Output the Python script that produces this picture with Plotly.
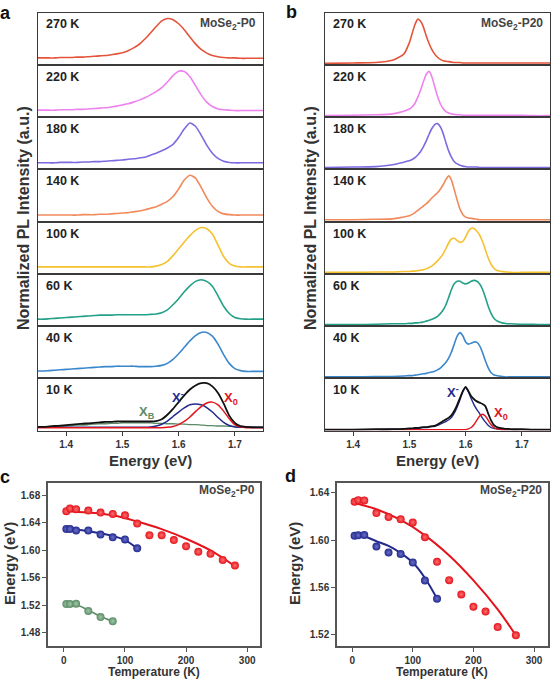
import plotly.graph_objects as go

W, H = 554, 681
FONT = "Liberation Sans, Arial, sans-serif"

# ---------------- data: PL spectra (normalized) ----------------
temps = ["270 K", "220 K", "180 K", "140 K", "100 K", "60 K", "40 K", "10 K"]
spec_colors = ["#e4543a", "#ee82ee", "#7b6be0", "#f08a5d", "#f5c12e", "#22a088", "#3b87cc", "#111111"]

EA = [1.35, 1.36, 1.37, 1.38, 1.39, 1.40, 1.41, 1.42, 1.43, 1.44,
      1.45, 1.46, 1.47, 1.48, 1.49, 1.50, 1.51, 1.52, 1.53, 1.54,
      1.55, 1.56, 1.57, 1.58, 1.59, 1.60, 1.61, 1.62, 1.63, 1.64,
      1.65, 1.66, 1.67, 1.68, 1.69, 1.70, 1.71, 1.72, 1.73, 1.74, 1.75]

a_270 = [.02, .02, .02, .02, .03, .03, .03, .04, .04, .05,
         .06, .07, .08, .10, .12, .15, .20, .27, .36, .49,
         .64, .80, .94, 1.0, .97, .87, .72, .54, .37, .23,
         .14, .08, .05, .03, .02, .02, .01, .01, .01, .01, .01]
a_220 = [.02, .02, .02, .02, .03, .03, .03, .04, .04, .05,
         .06, .07, .08, .10, .12, .15, .18, .22, .27, .33,
         .40, .48, .58, .72, .88, .99, .98, .85, .63, .40,
         .22, .11, .05, .03, .02, .01, .01, .01, .01, .01, .01]
a_180 = [.01, .01, .01, .01, .02, .02, .02, .02, .03, .03,
         .04, .04, .05, .06, .07, .08, .10, .11, .13, .15,
         .20, .25, .31, .38, .47, .64, .85, 1.0, .92, .70,
         .45, .25, .12, .05, .02, .01, .01, .01, .01, .01, .01]
a_140 = [.01, .01, .01, .01, .01, .01, .01, .01, .02, .02,
         .02, .03, .03, .04, .05, .06, .07, .09, .11, .14,
         .18, .22, .28, .35, .47, .66, .88, 1.0, .93, .70,
         .44, .23, .10, .04, .02, .01, .01, .01, .01, .01, .01]
a_100 = [.02, .02, .02, .02, .02, .02, .02, .02, .02, .02,
         .02, .02, .02, .02, .02, .02, .02, .02, .02, .02,
         .02, .04, .08, .16, .30, .47, .64, .80, .93, 1.0,
         .97, .84, .56, .28, .11, .04, .02, .02, .02, .02, .02]
a_60 = [.02, .02, .03, .04, .05, .06, .07, .08, .09, .10,
        .11, .12, .12, .12, .13, .13, .13, .13, .13, .13,
        .14, .15, .18, .25, .38, .53, .70, .85, .96, 1.0,
        .96, .84, .60, .34, .16, .06, .03, .02, .02, .02, .02]
a_40 = [.03, .03, .04, .05, .06, .07, .08, .09, .10, .11,
        .12, .13, .14, .14, .15, .15, .15, .15, .14, .14,
        .14, .15, .17, .22, .32, .46, .62, .78, .91, .99,
        .99, .90, .70, .44, .22, .09, .04, .02, .02, .02, .02]
a_10 = [.03, .03, .04, .05, .06, .07, .08, .09, .10, .11,
        .12, .13, .14, .14, .15, .15, .15, .15, .15, .15,
        .15, .16, .20, .30, .43, .58, .73, .86, .95, 1.0,
        1.0, .93, .78, .55, .28, .12, .05, .03, .02, .02, .02]
a_10_xm = [.02, .02, .02, .02, .02, .02, .02, .02, .02, .02,
           .02, .02, .02, .02, .02, .02, .02, .02, .02, .02,
           .03, .05, .09, .16, .26, .36, .45, .52, .54, .52,
           .46, .36, .24, .13, .06, .03, .02, .02, .02, .02, .02]
a_10_x0 = [.01, .01, .01, .01, .01, .01, .01, .01, .01, .01,
           .01, .01, .01, .01, .01, .01, .01, .01, .01, .01,
           .01, .01, .01, .02, .04, .08, .15, .25, .37, .48,
           .56, .58, .52, .38, .21, .08, .03, .01, .01, .01, .01]
a_10_xb = [.02, .03, .03, .04, .04, .05, .06, .07, .07, .08,
           .09, .10, .10, .11, .11, .12, .12, .12, .12, .12,
           .12, .11, .11, .10, .10, .09, .09, .08, .08, .07,
           .06, .06, .05, .05, .04, .04, .03, .03, .03, .02, .02]

EB = [1.35, 1.40, 1.44, 1.47, 1.49,
      1.500, 1.505, 1.510, 1.515, 1.520, 1.525, 1.530, 1.535, 1.540, 1.545,
      1.550, 1.555, 1.560, 1.565, 1.570, 1.575, 1.580, 1.585, 1.590, 1.595,
      1.600, 1.605, 1.610, 1.615, 1.620, 1.625, 1.630, 1.635, 1.640, 1.645,
      1.650, 1.655, 1.660, 1.665, 1.670, 1.675, 1.680,
      1.70, 1.72, 1.75]

b_270 = [.00, .01, .02, .07, .21,
         .47, .68, .88, 1.0, .95, .82, .62, .45, .31, .21,
         .14, .09, .06, .05, .04, .03, .02, .02, .02, .01,
         .01, .01, .01, .01, .01, .01, .01, .01, .01, .01,
         .01, .01, .01, .01, .01, .01, .01,
         .01, .01, .01]
b_220 = [.00, .01, .02, .04, .10,
         .15, .20, .28, .42, .58, .77, .93, 1.0, .88, .66,
         .44, .27, .16, .09, .06, .04, .03, .02, .02, .01,
         .01, .01, .01, .01, .01, .01, .01, .01, .01, .01,
         .01, .01, .01, .01, .01, .01, .01,
         .01, .00, .00]
b_180 = [.01, .02, .03, .07, .13,
         .16, .19, .23, .29, .37, .48, .61, .76, .89, .98,
         1.0, .93, .78, .57, .38, .24, .14, .09, .06, .04,
         .03, .02, .02, .02, .02, .01, .01, .01, .01, .01,
         .01, .01, .01, .01, .01, .01, .01,
         .01, .01, .01]
b_140 = [.01, .01, .02, .03, .07,
         .10, .13, .17, .22, .27, .32, .37, .43, .50, .56,
         .62, .70, .80, .92, 1.0, .90, .68, .45, .25, .13,
         .07, .05, .04, .03, .02, .01, .01, .01, .01, .01,
         .01, .01, .01, .01, .01, .01, .01,
         .01, .01, .01]
b_100 = [.00, .00, .01, .01, .02,
         .02, .03, .03, .04, .05, .06, .08, .11, .15, .20,
         .26, .33, .42, .54, .67, .76, .77, .72, .68, .70,
         .80, .93, 1.0, .99, .93, .84, .70, .52, .33, .19,
         .10, .05, .03, .02, .01, .01, .00,
         .00, .00, .00]
b_60 = [.00, .00, .01, .02, .02,
        .03, .03, .04, .04, .05, .06, .08, .10, .12, .15,
        .19, .25, .33, .45, .62, .80, .93, .98, .98, .94,
        .92, .94, .98, 1.0, .98, .92, .80, .62, .42, .26,
        .15, .09, .06, .04, .03, .02, .02,
        .01, .01, .00]
b_40 = [.00, .00, .01, .01, .02,
        .03, .03, .04, .05, .06, .07, .08, .10, .11, .13,
        .16, .20, .26, .33, .43, .57, .75, .92, 1.0, .93,
        .79, .74, .76, .79, .78, .70, .55, .37, .21, .10,
        .05, .03, .02, .01, .00, .00, .00,
        .00, .00, .00]
b_10 = [.00, .00, .01, .01, .02,
        .03, .03, .04, .04, .05, .06, .06, .07, .08, .09,
        .12, .16, .20, .24, .28, .34, .44, .58, .74, .90,
        1.0, .90, .78, .71, .66, .63, .60, .55, .38, .22,
        .11, .06, .04, .03, .02, .02, .01,
        .01, .00, .00]
b_10_xm = [.00, .00, .00, .01, .01,
           .02, .02, .03, .03, .04, .05, .05, .06, .07, .08,
           .10, .13, .16, .19, .23, .29, .39, .53, .70, .88,
           .98, .88, .72, .58, .47, .37, .27, .18, .10, .05,
           .03, .02, .01, .00, .00, .00, .00,
           .00, .00, .00]
b_10_x0 = [.00, .00, .00, .00, .00,
           .00, .00, .00, .00, .00, .00, .00, .00, .00, .00,
           .00, .00, .00, .00, .00, .00, .00, .00, .00, .00,
           .00, .02, .05, .12, .22, .32, .36, .32, .22, .12,
           .05, .02, .01, .00, .00, .00, .00,
           .00, .00, .00]

spectra_a = [a_270, a_220, a_180, a_140, a_100, a_60, a_40, a_10]
spectra_b = [b_270, b_220, b_180, b_140, b_100, b_60, b_40, b_10]

# ---------------- data: peak energies vs temperature ----------------
c_x0_T = [4, 10, 20, 40, 60, 80, 100, 120, 140, 160, 180, 200, 220, 240, 260, 280]
c_x0_E = [1.657, 1.661, 1.660, 1.658, 1.655, 1.653, 1.651, 1.639, 1.622, 1.622,
          1.615, 1.606, 1.598, 1.595, 1.586, 1.578]
c_x0_fitT = [0, 40, 80, 120, 160, 200, 240, 280]
c_x0_fitE = [1.657, 1.655, 1.651, 1.642, 1.631, 1.617, 1.600, 1.577]
c_xm_T = [4, 10, 20, 40, 60, 80, 100, 120]
c_xm_E = [1.631, 1.631, 1.629, 1.629, 1.623, 1.619, 1.616, 1.603]
c_xm_fitT = [0, 20, 40, 60, 80, 100, 120]
c_xm_fitE = [1.631, 1.630, 1.628, 1.625, 1.621, 1.615, 1.603]
c_xb_T = [4, 10, 20, 40, 60, 80]
c_xb_E = [1.522, 1.522, 1.5225, 1.512, 1.503, 1.497]
c_xb_fitT = [0, 20, 40, 60, 80]
c_xb_fitE = [1.522, 1.521, 1.513, 1.504, 1.497]

d_x0_T = [4, 10, 20, 40, 60, 80, 100, 120, 140, 160, 180, 200, 220, 240, 270]
d_x0_E = [1.6324, 1.6337, 1.6335, 1.6228, 1.6195, 1.6176, 1.6149, 1.6024, 1.5816,
          1.5661, 1.5541, 1.5437, 1.5396, 1.5265, 1.5195]
d_x0_fitT = [0, 40, 80, 120, 160, 200, 240, 270]
d_x0_fitE = [1.632, 1.626, 1.617, 1.604, 1.587, 1.566, 1.5415, 1.5195]
d_xm_T = [4, 10, 20, 40, 60, 80, 100, 120, 140]
d_xm_E = [1.6037, 1.6040, 1.6043, 1.5945, 1.5895, 1.5882, 1.5811, 1.5658, 1.5505]
d_xm_fitT = [0, 20, 40, 60, 80, 100, 120, 140]
d_xm_fitE = [1.604, 1.603, 1.599, 1.595, 1.589, 1.581, 1.568, 1.5505]

RED, BLUE, GREEN = "#e3141c", "#232a8c", "#5b8c66"
RED_C, BLUE_C, GREEN_C = "#ff7070", "#6a70cc", "#a0c8a8"

# ---------------- figure ----------------
fig = go.Figure()
layout = {}
ann = []


def px_x(p):
    return p / W


def px_y(p):
    return 1 - p / H


def ax_name(kind, n):
    return f"{kind}axis" if n == 1 else f"{kind}axis{n}"


def ax_ref(kind, n):
    return kind if n == 1 else f"{kind}{n}"


top0, step = 12.5, 52.25
panels = [(38, 263, spectra_a, "MoSe<sub>2</sub>-P0"), (325, 550, spectra_b, "MoSe<sub>2</sub>-P20")]
LINEC = "#3a3a3a"

for p, (x0, x1, specs, tag) in enumerate(panels):
    for i in range(8):
        n = p * 8 + i + 1
        top = top0 + i * step
        bot = top + step
        if p == 0:
            yr = [-0.05, 1.11] if i == 7 else [-0.15, 1.15]
        else:
            yr = [-0.02, 1.2] if i == 7 else [-0.03, 1.15]
        xa = dict(domain=[px_x(x0), px_x(x1)], range=[1.35, 1.75], anchor=ax_ref("y", n),
                  showline=True, mirror=True, linecolor=LINEC, linewidth=1.3,
                  showgrid=False, zeroline=False, ticks="", showticklabels=False)
        if i == 7:
            xa.update(ticks="outside", ticklen=4, tickwidth=1.2, tickcolor=LINEC,
                      showticklabels=True, tickvals=[1.4, 1.5, 1.6, 1.7],
                      ticktext=["<b>1.4</b>", "<b>1.5</b>", "<b>1.6</b>", "<b>1.7</b>"],
                      tickfont=dict(family=FONT, size=10, color="#333"))
        ya = dict(domain=[px_y(bot), px_y(top)], range=yr, anchor=ax_ref("x", n),
                  showline=True, mirror=True, linecolor=LINEC, linewidth=1.3,
                  showgrid=False, zeroline=False, ticks="", showticklabels=False)
        layout[ax_name("x", n)] = xa
        layout[ax_name("y", n)] = ya

        E = EA if p == 0 else EB
        if i == 7:
            if p == 0:
                comps = [(a_10_xb, GREEN, 1.3), (a_10_xm, BLUE, 1.5), (a_10_x0, RED, 1.5)]
            else:
                comps = [(b_10_xm, BLUE, 1.4), (b_10_x0, RED, 1.4)]
            for yy, cc, ww in comps:
                fig.add_trace(go.Scatter(x=E, y=yy, mode="lines", line=dict(color=cc, width=ww, shape="spline", smoothing=0.6),
                                         xaxis=ax_ref("x", n), yaxis=ax_ref("y", n), showlegend=False, hoverinfo="skip"))
        fig.add_trace(go.Scatter(x=E, y=specs[i], mode="lines",
                                 line=dict(color=spec_colors[i], width=1.8 if i == 7 else 1.6, shape="spline", smoothing=0.6),
                                 xaxis=ax_ref("x", n), yaxis=ax_ref("y", n), showlegend=False, hoverinfo="skip"))
        ann.append(dict(text=f"<b>{temps[i]}</b>", x=px_x(x0 + 6), y=px_y(top + 12), xref="paper", yref="paper",
                        xanchor="left", yanchor="middle", showarrow=False,
                        font=dict(family=FONT, size=12.5, color="#222")))
    ann.append(dict(text=f"<b>{tag}</b>", x=px_x(x1 - 5), y=px_y(top0 + 12), xref="paper", yref="paper",
                    xanchor="right", yanchor="middle", showarrow=False,
                    font=dict(family=FONT, size=12, color="#444")))
    ann.append(dict(text="<b>Energy (eV)</b>", x=px_x((x0 + x1) / 2), y=px_y(460), xref="paper", yref="paper",
                    xanchor="center", yanchor="middle", showarrow=False,
                    font=dict(family=FONT, size=15, color="#333")))

ann.append(dict(text="<b>Normalized PL Intensity (a.u.)</b>", x=px_x(23), y=px_y(218), xref="paper", yref="paper",
                textangle=-90, xanchor="center", yanchor="middle", showarrow=False,
                font=dict(family=FONT, size=16, color="#333")))
ann.append(dict(text="<b>Normalized PL Intensity (a.u.)</b>", x=px_x(310), y=px_y(218), xref="paper", yref="paper",
                textangle=-90, xanchor="center", yanchor="middle", showarrow=False,
                font=dict(family=FONT, size=16, color="#333")))

# exciton labels in 10 K panels
ann += [
    dict(text="<b>X<sup>-</sup></b>", x=px_x(178), y=px_y(397), font=dict(family=FONT, size=13, color=BLUE)),
    dict(text="<b>X<sub>0</sub></b>", x=px_x(231), y=px_y(398), font=dict(family=FONT, size=13, color=RED)),
    dict(text="<b>X<sub>B</sub></b>", x=px_x(147), y=px_y(412), font=dict(family=FONT, size=13, color=GREEN)),
    dict(text="<b>X<sup>-</sup></b>", x=px_x(453), y=px_y(392), font=dict(family=FONT, size=13, color=BLUE)),
    dict(text="<b>X<sub>0</sub></b>", x=px_x(501), y=px_y(413), font=dict(family=FONT, size=13, color=RED)),
]
for a in ann[-5:]:
    a.update(xref="paper", yref="paper", showarrow=False, xanchor="center", yanchor="middle")

# ---------------- panels c and d ----------------
BOX_TOP, BOX_BOT = 483, 646


def add_box(n, xd, xr, yr, yt):
    layout[ax_name("x", n)] = dict(domain=[px_x(xd[0]), px_x(xd[1])], range=xr, anchor=ax_ref("y", n),
                                   showline=True, mirror=True, linecolor="#555", linewidth=1.5,
                                   showgrid=False, zeroline=False, ticks="outside", ticklen=4,
                                   tickwidth=1.2, tickcolor="#555", tickvals=[0, 100, 200, 300],
                                   ticktext=["<b>0</b>", "<b>100</b>", "<b>200</b>", "<b>300</b>"],
                                   tickfont=dict(family=FONT, size=10, color="#333"))
    layout[ax_name("y", n)] = dict(domain=[px_y(BOX_BOT), px_y(BOX_TOP)], range=yr, anchor=ax_ref("x", n),
                                   showline=True, mirror=True, linecolor="#555", linewidth=1.5,
                                   showgrid=False, zeroline=False, ticks="outside", ticklen=4,
                                   tickwidth=1.2, tickcolor="#555", tickvals=yt,
                                   ticktext=[f"<b>{v:.2f}</b>" for v in yt],
                                   tickfont=dict(family=FONT, size=10, color="#333"))


add_box(17, (48, 260), [-26, 321], [1.461, 1.698], [1.48, 1.52, 1.56, 1.60, 1.64, 1.68])
add_box(18, (337, 548), [-25, 323], [1.5105, 1.6482], [1.52, 1.56, 1.60, 1.64])


def add_series(n, fT, fE, T, Ev, col, cen, lw):
    fig.add_trace(go.Scatter(x=fT, y=fE, mode="lines", line=dict(color=col, width=lw, shape="spline"),
                             xaxis=ax_ref("x", n), yaxis=ax_ref("y", n), showlegend=False, hoverinfo="skip"))
    fig.add_trace(go.Scatter(x=T, y=Ev, mode="markers",
                             marker=dict(size=8, color=col, gradient=dict(type="radial", color=cen), line=dict(width=0)),
                             xaxis=ax_ref("x", n), yaxis=ax_ref("y", n), showlegend=False, hoverinfo="skip"))


add_series(17, c_x0_fitT, c_x0_fitE, c_x0_T, c_x0_E, RED, RED_C, 2)
add_series(17, c_xm_fitT, c_xm_fitE, c_xm_T, c_xm_E, BLUE, BLUE_C, 2)
add_series(17, c_xb_fitT, c_xb_fitE, c_xb_T, c_xb_E, GREEN, GREEN_C, 1.6)
add_series(18, d_x0_fitT, d_x0_fitE, d_x0_T, d_x0_E, RED, RED_C, 2)
add_series(18, d_xm_fitT, d_xm_fitE, d_xm_T, d_xm_E, BLUE, BLUE_C, 2)

for xc, yc, txt in [(257, 491, "MoSe<sub>2</sub>-P0"), (544, 491, "MoSe<sub>2</sub>-P20")]:
    ann.append(dict(text=f"<b>{txt}</b>", x=px_x(xc), y=px_y(yc), xref="paper", yref="paper",
                    xanchor="right", yanchor="middle", showarrow=False,
                    font=dict(family=FONT, size=12, color="#444")))
for xc in (9, 294):
    ann.append(dict(text="<b>Energy (eV)</b>", x=px_x(xc), y=px_y(564), xref="paper", yref="paper",
                    textangle=-90, xanchor="center", yanchor="middle", showarrow=False,
                    font=dict(family=FONT, size=15, color="#333")))
for xc in (154, 442):
    ann.append(dict(text="<b>Temperature (K)</b>", x=px_x(xc), y=px_y(681), xref="paper", yref="paper",
                    xanchor="center", yanchor="bottom", showarrow=False,
                    font=dict(family=FONT, size=12, color="#333")))

# panel letters
for t, xc, yc in [("a", 5, 13), ("b", 291, 12), ("c", 5, 477), ("d", 290, 476)]:
    ann.append(dict(text=f"<b>{t}</b>", x=px_x(xc), y=px_y(yc), xref="paper", yref="paper",
                    xanchor="center", yanchor="middle", showarrow=False,
                    font=dict(family=FONT, size=18, color="#111")))

fig.update_layout(width=W, height=H, margin=dict(l=0, r=0, t=0, b=0),
                  paper_bgcolor="white", plot_bgcolor="white", showlegend=False,
                  annotations=ann, **layout)

fig.write_html("out.html")
